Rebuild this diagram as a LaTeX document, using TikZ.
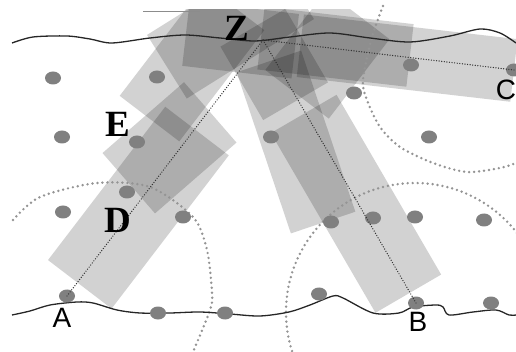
\documentclass[tikz,border=0pt]{standalone}
\usepackage{fontspec}
\setmainfont{Liberation Serif}
\newfontfamily\lsans{Liberation Sans}
\usetikzlibrary{calc,shapes.geometric}
\newcommand\rrect[5]{\fill[band,rotate around={#5:(#1,#2)}] ({#1-#3/2},{#2-#4/2}) rectangle ({#1+#3/2},{#2+#4/2});}
\begin{document}
\begin{tikzpicture}[x=1pt,y=-1pt,
  band/.style={fill=black,fill opacity=0.175},
  dot/.style={ellipse,fill=black!50,minimum width=16pt,minimum height=13pt,inner sep=0pt},
  wave/.style={draw=black!85,line width=1.3pt},
  ring/.style={draw=black!42,line width=2.7pt,dash pattern=on 0pt off 5pt,line cap=round},
  conn/.style={draw=black!80,line width=1.4pt,dash pattern=on 0pt off 2.6pt,line cap=round},
  bigl/.style={font=\bfseries\fontsize{37}{37}\selectfont,inner sep=0pt},
  sansl/.style={font=\lsans\fontsize{28}{28}\selectfont,inner sep=0pt}]
\useasboundingbox (0,0) rectangle (516,352);
\coordinate (Z) at (263,40);
% translucent rectangles
\begin{scope}
\clip (0,10) rectangle (516,352);
\rrect{138.4}{207.7}{193}{80}{52.6}
\rrect{169.5}{147.8}{108}{80}{41}
\rrect{192}{63}{140}{75}{52.6}
\rrect{327.4}{54.6}{100}{80}{52.6}
\rrect{356}{203.8}{208}{76}{120.2}
\rrect{296}{142}{170}{68}{108.6}
\rrect{274.2}{64.5}{85}{75}{120.2}
\rrect{407.1}{58.1}{215}{63}{173.4}
\rrect{335.5}{46.8}{150}{63}{173.4}
\rrect{240.6}{39.9}{110}{65}{173.4}
\rrect{230.5}{27}{150}{75}{32}
\end{scope}
\draw[black!45,line width=0.8pt] (143,11.5) -- (200,11.5);
% dotted range circles
\begin{scope}
\clip (0,0) rectangle (516,352);
\draw[ring] (415,312) circle[radius=129pt];
\draw[ring] plot[smooth] coordinates {(13,220) (40,197) (97,183) (150,187) (193,217) (207,250) (212,293) (210,310) (193,352)};
\draw[ring] plot[smooth] coordinates {(383,6) (372,37) (363,80) (367,100) (380,127) (400,147) (433,163) (467,172) (500,168) (516,163)};
\end{scope}
% wavy lines
\draw[wave] plot[smooth] coordinates {(12,43) (33,37) (67,36) (90,39) (112,43) (150,38) (185,35) (220,38) (255,41) (290,37) (330,33) (370,38) (410,42) (450,36) (480,29) (500,33) (516,43)};
\draw[wave] plot[smooth,tension=0.5] coordinates {(12,315) (30,311) (50,305) (77,302) (93,303) (117,310) (140,313) (170,313) (200,312) (230,314) (260,316) (289,312) (310,305) (333,296) (343,298) (373,313) (399,313) (413,307) (436,305) (443,307) (449,315) (473,312) (496,310) (509,315) (516,315)};
% sensor dots
\node[dot] (d1) at (53,78) {};
\node[dot] (d2) at (157,77) {};
\node[dot] (d3) at (62,137) {};
\node[dot] (d4) at (137,142) {};
\node[dot] (d5) at (127,192) {};
\node[dot] (d6) at (63,212) {};
\node[dot] (d7) at (183,217) {};
\node[dot] (dA) at (67,296) {};
\node[dot] (d9) at (158,313) {};
\node[dot] (d10) at (225,313) {};
\node[dot] (d11) at (271,137) {};
\node[dot] (d12) at (354,93) {};
\node[dot] (d13) at (411,65) {};
\node[dot] (dC) at (514,70) {};
\node[dot] (d15) at (429,137) {};
\node[dot] (d16) at (331,222) {};
\node[dot] (d17) at (373,218) {};
\node[dot] (d18) at (415,217) {};
\node[dot] (d19) at (484,220) {};
\node[dot] (d20) at (319,294) {};
\node[dot] (dB) at (416,303) {};
\node[dot] (d22) at (491,303) {};
% paths to Z
\draw[conn] (dA.center) -- (Z);
\draw[conn] (dB.center) -- (Z);
\draw[conn] (dC.center) -- (Z);
% labels
\node[bigl] (lZ) at (237,28) {Z};
\node[bigl] (lE) at (118,124) {E};
\node[bigl] (lD) at (118,220) {D};
\node[sansl] (lA) at (62,318) {A};
\node[sansl] (lB) at (418,322) {B};
\node[sansl] (lC) at (506,90) {C};
\end{tikzpicture}
\end{document}
